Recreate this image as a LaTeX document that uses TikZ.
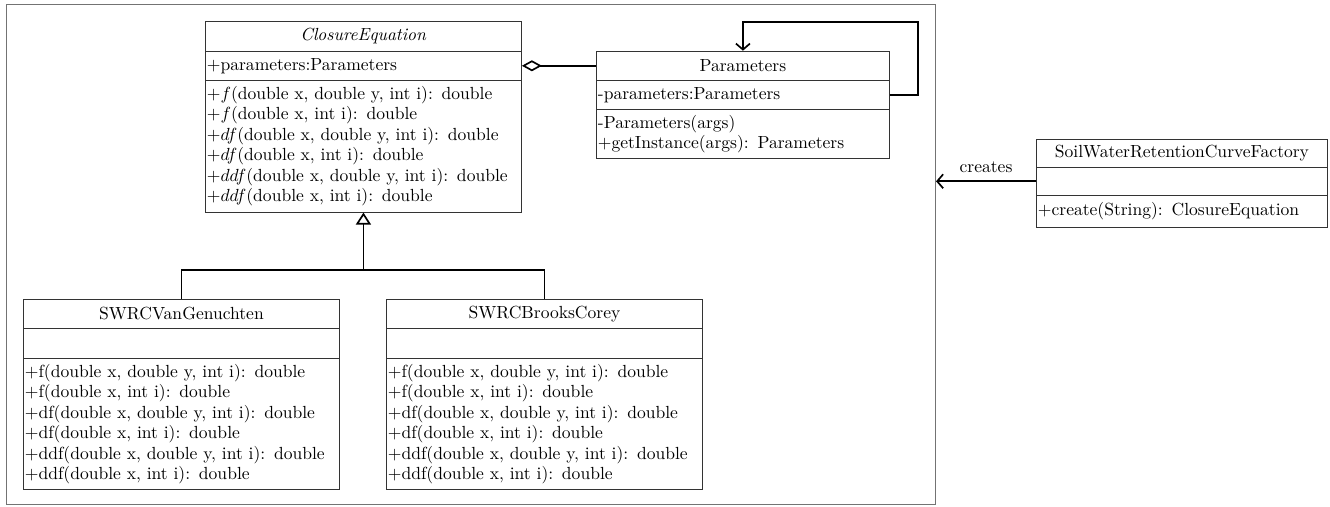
\documentclass[tikz,border=0pt]{standalone}
\usetikzlibrary{arrows.meta,calc}
\newcommand\pxu{0.57pt}
\tikzset{
  px/.style={x=\pxu,y=-\pxu},
  comp/.style={draw=black!80,line width=0.5pt,anchor=north west,inner xsep=1.5*\pxu,inner ysep=0pt,
    font=\fontsize{10}{11.7}\selectfont,align=left},
  ttl/.style={comp,align=center},
  conn/.style={draw=black,line width=0.95pt},
  agg/.style={conn,{Diamond[open,length=20*\pxu,width=11*\pxu,line width=0.95pt]}-},
  inh/.style={conn,-{Triangle[open,length=12*\pxu,width=15*\pxu,line width=0.95pt]}},
  dep/.style={conn,-{Straight Barb[length=6*\pxu,width=14*\pxu,line width=0.95pt]}},
  framebox/.style={draw=black!55,line width=0.6pt,anchor=north west,inner sep=0pt}
}
\newcommand\cbox[6]{% name x y width height text
  \node[comp,text width=(#4-3)*\pxu,minimum height=#5*\pxu] (#1) at (#2,#3) {#6};}
\newcommand\tbox[6]{%
  \node[ttl,text width=(#4-3)*\pxu,minimum height=#5*\pxu] (#1) at (#2,#3) {#6};}
\begin{document}
\begin{tikzpicture}[px]
\useasboundingbox (0,0) rectangle (1330,507);
\node[framebox,minimum width=929*\pxu,minimum height=500*\pxu] (frame) at (6,4) {};

% ClosureEquation
\tbox{ceT}{205}{21}{316}{29.7}{\textit{ClosureEquation}}
\cbox{ceA}{205}{50.7}{316}{29.3}{+parameters:Parameters}
\cbox{ceM}{205}{80}{316}{131.7}{+$f$(double x, double y, int i): double\\
+$f$(double x, int i): double\\
+$df$(double x, double y, int i): double\\
+$df$(double x, int i): double\\
+$ddf$(double x, double y, int i): double\\
+$ddf$(double x, int i): double}

% Parameters
\tbox{pT}{596}{50.7}{293}{29.3}{Parameters}
\cbox{pA}{596}{80}{293}{29}{-parameters:Parameters}
\cbox{pM}{596}{109}{293}{49}{-Parameters(args)\\
+getInstance(args): Parameters}

% Factory
\tbox{fT}{1036}{139}{291}{27.7}{SoilWaterRetentionCurveFactory}
\cbox{fA}{1036}{166.7}{291}{28.3}{}
\cbox{fM}{1036}{195}{291}{31.7}{+create(String): ClosureEquation}

% SWRCVanGenuchten
\tbox{vgT}{23}{299}{316}{29}{SWRCVanGenuchten}
\cbox{vgA}{23}{328}{316}{30}{}
\cbox{vgM}{23}{358}{316}{131}{+f(double x, double y, int i): double\\
+f(double x, int i): double\\
+df(double x, double y, int i): double\\
+df(double x, int i): double\\
+ddf(double x, double y, int i): double\\
+ddf(double x, int i): double}

% SWRCBrooksCorey
\tbox{bcT}{386}{299}{316}{29}{SWRCBrooksCorey}
\cbox{bcA}{386}{328}{316}{30}{}
\cbox{bcM}{386}{358}{316}{131}{+f(double x, double y, int i): double\\
+f(double x, int i): double\\
+df(double x, double y, int i): double\\
+df(double x, int i): double\\
+ddf(double x, double y, int i): double\\
+ddf(double x, int i): double}

% aggregation
\draw[agg] (ceA.east) -- (pT.west);
% self loop
\coordinate (loopR) at (918,22);
\draw[dep] (pA.east) -| (loopR) -| (pT.north);
% creates
\coordinate (crEnd) at (frame.east |- fA.west);
\draw[dep] (fA.west) -- node[above=1pt,font=\fontsize{10}{12}\selectfont] (crLbl) {creates} (crEnd);
% inheritance
\coordinate (junc) at (ceM.south |- 0,270);
\draw[conn] (vgT.north) |- (bcT.north |- junc) -- (bcT.north);
\draw[inh] (junc) -- (ceM.south);
\end{tikzpicture}
\end{document}
